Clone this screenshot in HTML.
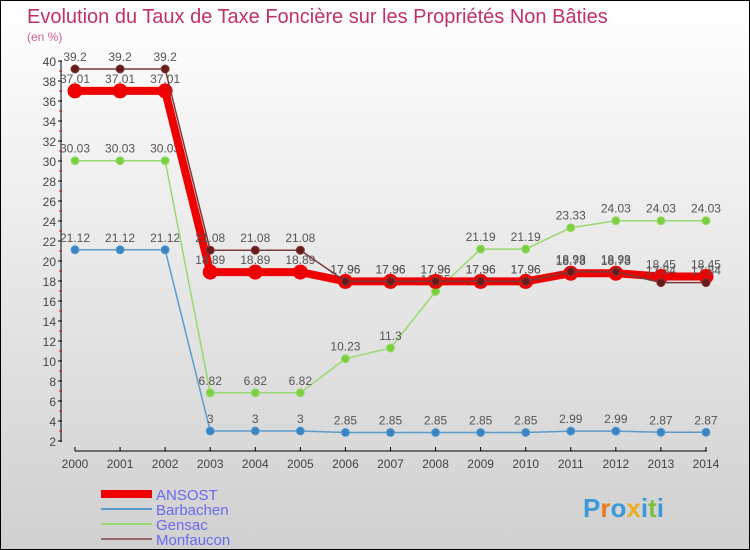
<!DOCTYPE html>
<html><head><meta charset="utf-8"><style>
body{margin:0}
#c{width:748px;height:548px;border:1px solid #000;background:linear-gradient(#fff,#d0d0d0);position:relative;overflow:hidden;font-family:"Liberation Sans",sans-serif}
</style></head><body>
<div id="c">
<svg id="s" width="748" height="548"></svg>
</div>
<script>
const years=[2000,2001,2002,2003,2004,2005,2006,2007,2008,2009,2010,2011,2012,2013,2014];
const yTicks=[2,4,6,8,10,12,14,16,18,20,22,24,26,28,30,32,34,36,38,40];
const ansost=[37.01,37.01,37.01,18.89,18.89,18.89,17.96,17.96,17.96,17.96,17.96,18.78,18.78,18.45,18.45];
const barbachen=[21.12,21.12,21.12,3,3,3,2.85,2.85,2.85,2.85,2.85,2.99,2.99,2.87,2.87];
const gensac=[30.03,30.03,30.03,6.82,6.82,6.82,10.23,11.3,16.95,21.19,21.19,23.33,24.03,24.03,24.03];
const monfaucon=[39.2,39.2,39.2,21.08,21.08,21.08,17.96,17.96,17.96,17.96,17.96,18.93,18.93,17.84,17.84];
const NS='http://www.w3.org/2000/svg',s=document.getElementById('s');
const X=i=>74+i*45.07, Y=v=>440-(v-2)*10;
function el(t,a,txt){const e=document.createElementNS(NS,t);for(const k in a)e.setAttribute(k,a[k]);if(txt!==undefined)e.textContent=txt;s.appendChild(e);return e;}
let e;
e=el('text',{x:26,y:22,'font-size':20,fill:'#c0306a'},'Evolution du Taux de Taxe Foncière sur les Propriétés Non Bâties');

e=el('text',{x:26,y:40,'font-size':12,fill:'#d06090'},'(en %)');

e=el('line',{x1:60,y1:60,x2:60,y2:441,stroke:'#000'});

yTicks.forEach(v=>{el('line',{x1:57,y1:Y(v),x2:61,y2:Y(v),stroke:'#000'});
 if(v<40)el('line',{x1:58,y1:Y(v+1),x2:61,y2:Y(v+1),stroke:'#e00'});
 e=el('text',{x:55,y:Y(v)+5,'font-size':12,fill:'#444','text-anchor':'end'},v);
 });
e=el('line',{x1:74,y1:450,x2:706,y2:450,stroke:'#000'});

years.forEach((y,i)=>{el('line',{x1:X(i),y1:446,x2:X(i),y2:450,stroke:'#000'});
 e=el('text',{x:X(i),y:467,'font-size':12,fill:'#444','text-anchor':'middle'},y);
 });
function series(d,name,col,w,r,dot,dy){
 e=el('polyline',{points:d.map((v,i)=>X(i)+','+Y(v)).join(' '),fill:'none',stroke:col,'stroke-width':w});
 
 d.forEach((v,i)=>{e=el('circle',{cx:X(i),cy:Y(v),r:r,fill:dot,stroke:col});
  
  e=el('text',{x:X(i),y:Y(v)+dy,'font-size':12,fill:'#555','text-anchor':'middle'},String(v));
  });
}
series(barbachen,'barbachen','#5b9ccc',1.5,4,'#3a84c4',-8);
series(gensac,'gensac','#9ad870',1.5,4,'#7cd040',-8);
series(ansost,'ansost','#ee0000',8,7,'#ee0000',-8);
series(monfaucon,'monfaucon','#7a3a3a',1.5,4,'#6a1a1a',-8);
const leg=[['ANSOST','#ee0000',8],['Barbachen','#5b9ccc',2],['Gensac','#9ad870',2],['Monfaucon','#9a6a6a',2]];
leg.forEach((l,i)=>{const y=493+i*15;
 e=el('line',{x1:100,y1:y,x2:151,y2:y,stroke:l[1],'stroke-width':l[2]});
 
 e=el('text',{x:155,y:y+6,'font-size':15,fill:'#6a6af0'},l[0]);
 });
e=el('text',{x:582,y:516,'font-size':26,'font-weight':'bold'});

[['P','#3a9ad8'],['r','#e87a20'],['o','#3a9ad8'],['x','#e8b020'],['i','#3a9ad8'],['t','#7cc040'],['i','#3a9ad8']].forEach(p=>{const t=document.createElementNS(NS,'tspan');t.setAttribute('fill',p[1]);t.textContent=p[0];e.appendChild(t);});
</script>
</body></html>
